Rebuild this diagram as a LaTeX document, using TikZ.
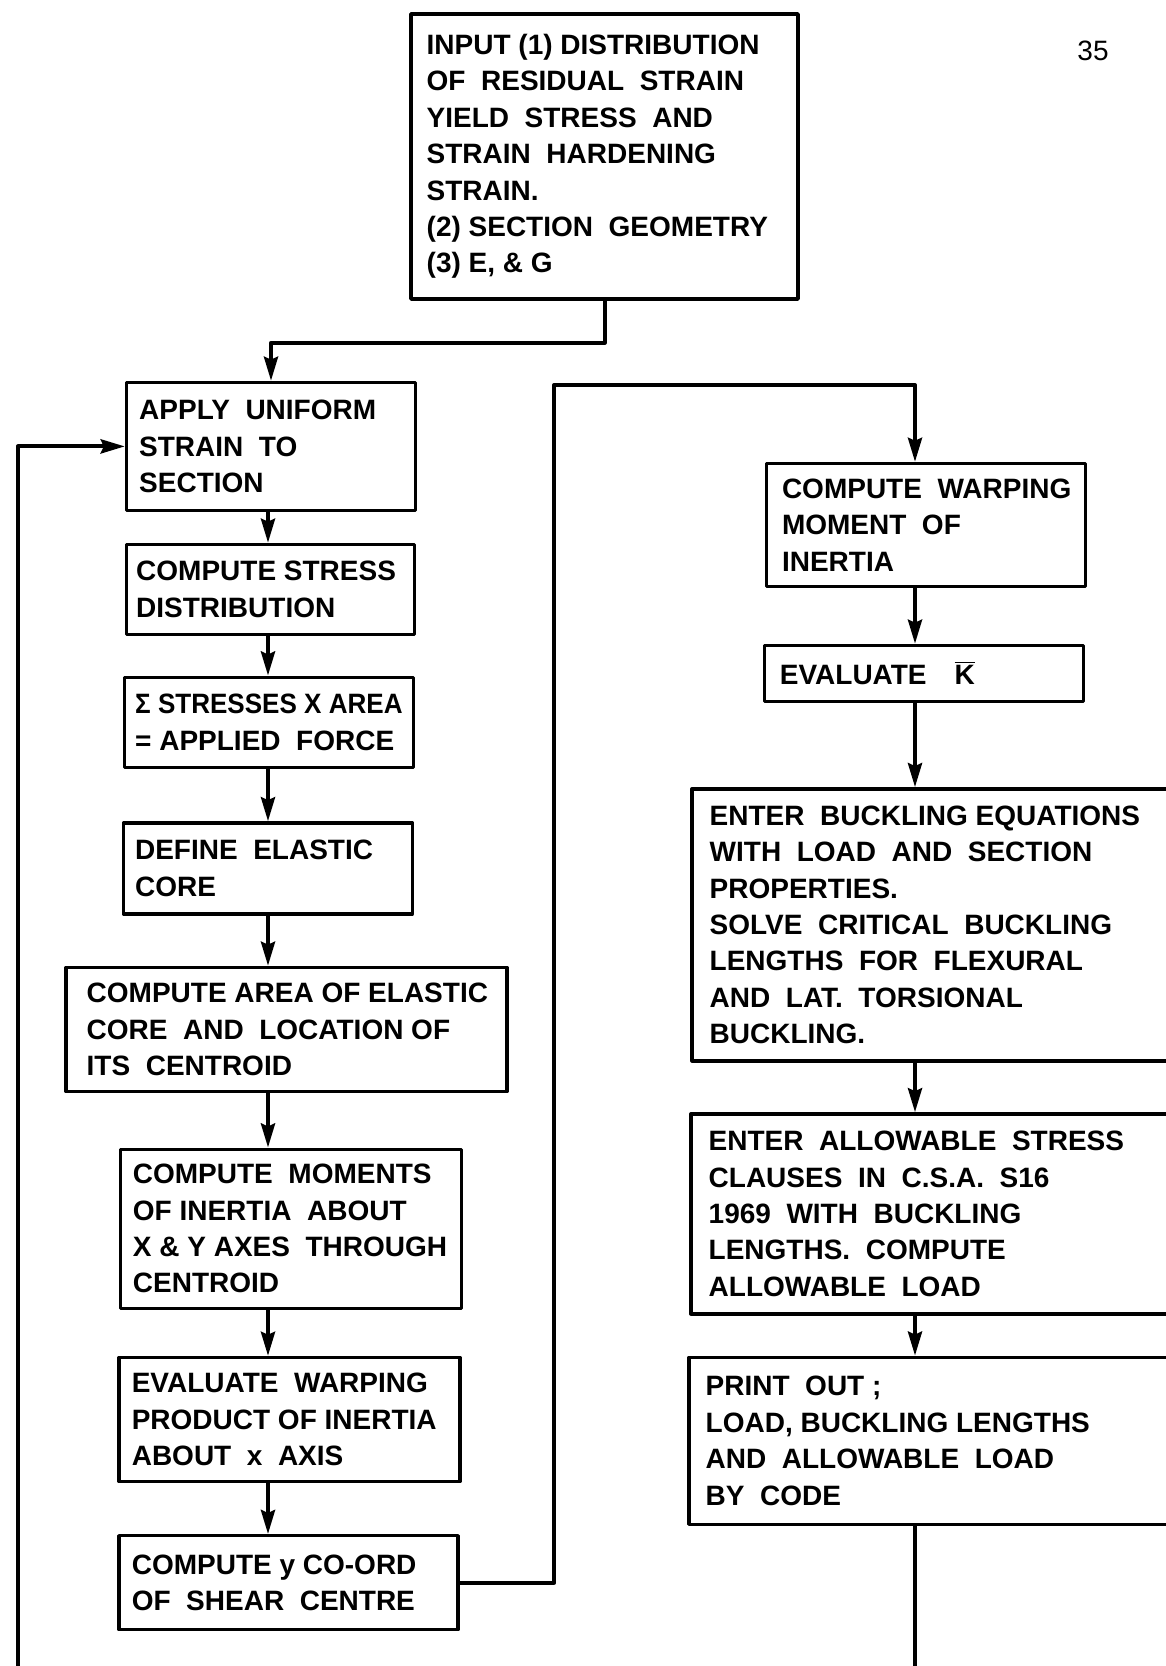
\documentclass[tikz,border=0pt]{standalone}
\usepackage{fontspec}
\setmainfont{Liberation Sans}
\usetikzlibrary{arrows.meta}
\begin{document}
\begin{tikzpicture}[x=0.5pt, y=-0.5pt, line join=round, line cap=round,
	>={Stealth[length=12pt,width=7pt,inset=1.5pt]},
	blk/.style={draw, line width=1.7pt, inner sep=0pt},
	txt/.style={anchor=west, align=left, inner sep=0pt, font=\bfseries\fontsize{14}{18.2}\selectfont},
	flow/.style={line width=2pt}]
	\clip (0,0) rectangle (1166,1666);
	\path (268,0) coordinate (lc) (915,0) coordinate (rc)
	(18,1666) coordinate (lb) (915,1666) coordinate (rb)
	(554,385) coordinate (jt);
	% boxes: name/centre x/centre y/width/height/left pad/text
	\foreach \n/\cx/\cy/\w/\h/\p/\t in {
		inp/604.5/156.5/387/285/17/{INPUT (1) DISTRIBUTION\\OF~~RESIDUAL~~STRAIN\\YIELD~~STRESS~~AND\\STRAIN~~HARDENING\\STRAIN.\\(2) SECTION~~GEOMETRY\\(3) E, \& G},
		apply/271/446.4/289/128/14/{APPLY~~UNIFORM\\STRAIN~~TO\\SECTION},
		stress/270.5/589.4/288/90/11/{COMPUTE STRESS\\DISTRIBUTION},
		sigma/269/722.2/289/90/12/{{\addfontfeatures{FakeStretch=0.93}Σ STRESSES X AREA}\\= APPLIED~~FORCE},
		core/267.9/868.4/289/91/13/{DEFINE~~ELASTIC\\CORE},
		area/286.5/1029.4/441/124/22/{COMPUTE AREA OF ELASTIC\\CORE~~AND~~LOCATION OF\\ITS~~CENTROID},
		mom/290.7/1228.7/341/159/14/{COMPUTE~~MOMENTS\\OF INERTIA~~ABOUT\\X \& Y AXES~~THROUGH\\CENTROID},
		wprod/289.6/1419.5/341/124/14/{EVALUATE~~WARPING\\PRODUCT OF INERTIA\\ABOUT~~x~~AXIS},
		shear/288.6/1582.7/339/94/14/{COMPUTE y CO-ORD\\OF~~SHEAR~~CENTRE},
		wmom/925.8/525/319/123/17/{COMPUTE~~WARPING\\MOMENT~~OF\\INERTIA},
		kbar/923.7/673.4/319/56/17/{EVALUATE\hspace{1em}$\overline{\mbox{K}}$},
		buck/936/924.8/488/272/19/{ENTER~~BUCKLING EQUATIONS\\WITH~~LOAD~~AND~~SECTION\\PROPERTIES.\\SOLVE~~CRITICAL~~BUCKLING\\LENGTHS~~FOR~~FLEXURAL\\AND~~LAT.~~TORSIONAL\\BUCKLING.},
		allow/935.5/1213.9/489/200/19/{ENTER~~ALLOWABLE~~STRESS\\CLAUSES~~IN~~C.S.A.~~S16\\1969~~WITH~~BUCKLING\\LENGTHS.~~COMPUTE\\ALLOWABLE~~LOAD},
		print/934.5/1440.8/491/167/18/{PRINT~~OUT ;\\LOAD, BUCKLING LENGTHS\\AND~~ALLOWABLE~~LOAD\\BY~~CODE}}{
		\node[blk, minimum width=\w*0.5pt, minimum height=\h*0.5pt] (\n) at (\cx,\cy) {};
		\node[txt] (\n-t) at ([xshift=\p*0.5pt]\n.west) {\t};
	}
	\node[font=\fontsize{14}{16}\selectfont] (pgno) at (1093,51) {35};
	% connectors
	\draw[flow,->] (inp.south) -- ++(0,42) -| (apply.north);
	\foreach \a/\b in {apply/stress,stress/sigma,sigma/core,core/area,area/mom,mom/wprod,wprod/shear}
		\draw[flow,->] (\a.south -| lc) -- (\b.north -| lc);
	\foreach \a/\b in {wmom/kbar,kbar/buck,buck/allow,allow/print}
		\draw[flow,->] (\a.south -| rc) -- (\b.north -| rc);
	\draw[flow,->] (lb) |- (apply.west);
	\draw[flow,->] (shear.east) -| (jt) -| (wmom.north -| rc);
	\draw[flow] (print.south -| rb) -- (rb);
\end{tikzpicture}
\end{document}
